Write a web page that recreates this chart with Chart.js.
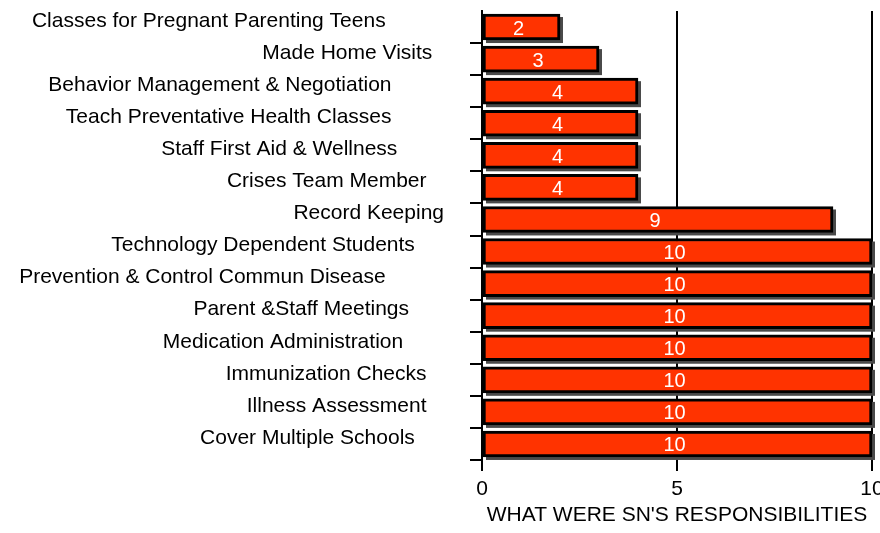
<!DOCTYPE html>
<html>
<head>
<meta charset="utf-8">
<script src="https://cdn.jsdelivr.net/npm/chart.js@4/dist/chart.umd.min.js"></script>
<style>
  html, body { margin: 0; padding: 0; background: #fff; overflow: hidden; }
  #wrap { width: 890px; height: 533px; position: relative; }
</style>
</head>
<body>
<div id="wrap"><canvas id="chart"></canvas></div>
<script>
// categories as they appear in the source (trailing blanks kept)
const categories = [
    "Classes for Pregnant Parenting Teens          ",
    "Made Home Visits  ",
    "Behavior Management & Negotiation         ",
    "Teach Preventative Health Classes         ",
    "Staff First Aid & Wellness        ",
    "Crises Team Member   ",
    "Record Keeping",
    "Technology Dependent Students     ",
    "Prevention & Control Commun Disease          ",
    "Parent &Staff Meetings      ",
    "Medication Administration       ",
    "Immunization Checks   ",
    "Illness Assessment   ",
    "Cover Multiple Schools     "
];
const counts = [2, 3, 4, 4, 4, 4, 9, 10, 10, 10, 10, 10, 10, 10];
const xTicks = [0, 5, 10];
const xTitle = "WHAT WERE SN'S RESPONSIBILITIES";

const FONT = "'Liberation Sans', Arial, sans-serif";

const barShadow = {
    id: 'barShadow',
    beforeDatasetsDraw(chart) {
        // grey drop shadow behind each bar
        const ctx = chart.ctx;
        const meta = chart.getDatasetMeta(0);
        ctx.save();
        ctx.fillStyle = '#4a4a4a';
        meta.data.forEach((bar) => {
            const h = bar.height;
            ctx.fillRect(bar.base + 3, bar.y - h / 2 + 3, bar.x - bar.base, h);
        });
        ctx.restore();
    },
    afterDatasetsDraw(chart) {
        // value labels inside the bars
        const ctx = chart.ctx;
        const meta = chart.getDatasetMeta(0);
        ctx.save();
        ctx.fillStyle = '#ffffff';
        ctx.font = '20px ' + FONT;
        ctx.textAlign = 'center';
        ctx.textBaseline = 'middle';
        meta.data.forEach((bar, i) => {
            const v = chart.data.datasets[0].data[i];
            ctx.fillText(String(v), (bar.x + bar.base) / 2 - 3, bar.y + 2);
        });
        ctx.restore();
    }
};

new Chart(document.getElementById('chart'), {
    type: 'bar',
    data: {
        labels: categories,
        datasets: [{
            data: counts,
            backgroundColor: '#ff3300',
            borderColor: '#000000',
            borderWidth: 3,
            borderSkipped: false,
            barThickness: 26,
            clip: false
        }]
    },
    options: {
        indexAxis: 'y',
        responsive: true,
        maintainAspectRatio: false,
        animation: false,
        layout: { padding: { top: 11, right: 18, bottom: 0, left: 0 } },
        plugins: {
            legend: { display: false },
            tooltip: { enabled: false }
        },
        scales: {
            x: {
                min: 0,
                max: 10,
                afterBuildTicks: (scale) => { scale.ticks = xTicks.map(v => ({ value: v })); },
                afterFit: (scale) => { scale.height = 73; },
                border: { display: false },
                grid: {
                    color: '#000000',
                    lineWidth: 2,
                    tickLength: 11,
                    drawOnChartArea: true
                },
                ticks: {
                    color: '#000000',
                    font: { family: FONT, size: 21 },
                    padding: 6
                },
                title: {
                    display: true,
                    text: xTitle,
                    color: '#000000',
                    font: { family: FONT, size: 21 },
                    padding: { top: 2, bottom: 5 }
                }
            },
            y: {
                afterFit: (scale) => {
                    scale.width = 482;
                    scale.paddingTop = 0;
                    scale.paddingBottom = 0;
                },
                border: { display: true, color: '#000000', width: 2 },
                grid: {
                    color: '#000000',
                    tickColor: (c) => c.index === 0 ? 'rgba(0,0,0,0)' : '#000000',
                    lineWidth: 2,
                    tickLength: 12,
                    drawOnChartArea: false,
                    offset: true
                },
                ticks: {
                    color: '#000000',
                    font: { family: FONT, size: 21 },
                    padding: 26,
                    autoSkip: false,
                    labelOffset: -6
                }
            }
        }
    },
    plugins: [barShadow]
});
</script>
</body>
</html>
